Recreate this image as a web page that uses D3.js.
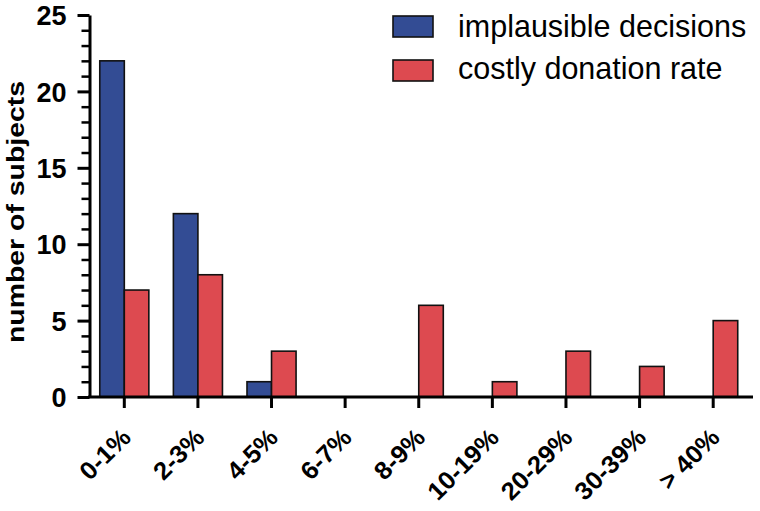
<!DOCTYPE html>
<html>
<head>
<meta charset="utf-8">
<script src="https://cdn.jsdelivr.net/npm/d3@7"></script>
<style>
  html, body { margin: 0; padding: 0; background: #fff; }
  svg { display: block; font-family: "Liberation Sans", Arial, sans-serif; }
</style>
</head>
<body>
<svg id="chart" width="760" height="511"></svg>
<script>
const categories = ["0-1%", "2-3%", "4-5%", "6-7%", "8-9%", "10-19%", "20-29%", "30-39%", "> 40%"];
const seriesNames = ["implausible decisions", "costly donation rate"];
const implausibleDecisions = [22, 12, 1, 0, 0, 0, 0, 0, 0];
const costlyDonationRate = [7, 8, 3, 0, 6, 1, 3, 2, 5];
const yTicks = [0, 5, 10, 15, 20, 25];
const seriesColors = ["#334c94", "#dd4a50"];

const svg = d3.select("#chart");
const plotTop = 15, plotBottom = 397, axisX = 89.5;

const x0 = d3.scaleBand().domain(categories).range([87.5, 750]).paddingInner(1/3).paddingOuter(1/6);
const x1 = d3.scaleBand().domain(seriesNames).range([0, x0.bandwidth()]).padding(0);
const y = d3.scaleLinear().domain([0, 25]).range([plotBottom, plotTop]);

const seriesValues = [implausibleDecisions, costlyDonationRate];
const rows = [];
categories.forEach((c, i) => {
  seriesNames.forEach((s, j) => {
    rows.push({ cat: c, series: s, value: seriesValues[j][i], color: seriesColors[j] });
  });
});

// bars
svg.append("g").selectAll("rect")
  .data(rows.filter(d => d.value > 0))
  .join("rect")
  .attr("x", d => x0(d.cat) + x1(d.series))
  .attr("y", d => y(d.value))
  .attr("width", x1.bandwidth())
  .attr("height", d => y(0) - y(d.value))
  .attr("fill", d => d.color)
  .attr("stroke", "#111")
  .attr("stroke-width", 1.6);

// y axis with minor ticks
const yMinor = d3.range(0, 26, 1).filter(v => v % 5 !== 0);
const gyMinor = svg.append("g").attr("transform", `translate(${axisX},0)`)
  .call(d3.axisLeft(y).tickValues(yMinor).tickSize(8).tickFormat(""));
gyMinor.select(".domain").remove();
gyMinor.selectAll("line").attr("stroke", "#000").attr("stroke-width", 2.5);

const gy = svg.append("g").attr("transform", `translate(${axisX},0)`)
  .call(d3.axisLeft(y).tickValues(yTicks).tickSize(12).tickSizeOuter(0).tickPadding(11));
gy.select(".domain").attr("stroke", "#000").attr("stroke-width", 3);
gy.selectAll(".tick line").attr("stroke", "#000").attr("stroke-width", 3);
gy.selectAll(".tick text")
  .attr("fill", "#000")
  .style("font-family", "'Liberation Sans', Arial, sans-serif")
  .style("font-size", "27px")
  .style("font-weight", "bold")
  .attr("dy", "0.36em");

// x axis
const gx = svg.append("g").attr("transform", `translate(0,${plotBottom})`)
  .call(d3.axisBottom(x0).tickSize(11).tickSizeOuter(0).tickFormat(""));
gx.select(".domain").attr("d", `M${axisX - 1.5},0H753`).attr("stroke", "#000").attr("stroke-width", 3);
gx.selectAll(".tick line").attr("stroke", "#000").attr("stroke-width", 3);

// rotated x labels
svg.append("g").selectAll("text")
  .data(categories)
  .join("text")
  .attr("transform", d => `translate(${x0(d) + x0.bandwidth() / 2 + 8},439) rotate(-45) scale(1.03,1)`)
  .attr("text-anchor", "end")
  .style("font-size", "25px")
  .style("font-weight", "bold")
  .attr("fill", "#000")
  .text(d => d);

// y title
svg.append("text")
  .attr("transform", "translate(24,212) rotate(-90)")
  .attr("text-anchor", "middle")
  .style("font-size", "24px")
  .style("font-weight", "bold")
  .attr("textLength", 262)
  .attr("lengthAdjust", "spacingAndGlyphs")
  .attr("fill", "#000")
  .text("number of subjects");

// legend
const legend = svg.append("g");
const legendRows = [{ name: seriesNames[0], color: seriesColors[0], top: 16, base: 37 },
                    { name: seriesNames[1], color: seriesColors[1], top: 60, base: 79 }];
legend.selectAll("rect").data(legendRows).join("rect")
  .attr("x", 393).attr("y", d => d.top).attr("width", 40).attr("height", 21)
  .attr("fill", d => d.color).attr("stroke", "#111").attr("stroke-width", 1.6);
legend.selectAll("text").data(legendRows).join("text")
  .attr("x", 458).attr("y", d => d.base)
  .style("font-size", "30.5px")
  .attr("fill", "#000")
  .text(d => d.name);
</script>
</body>
</html>
